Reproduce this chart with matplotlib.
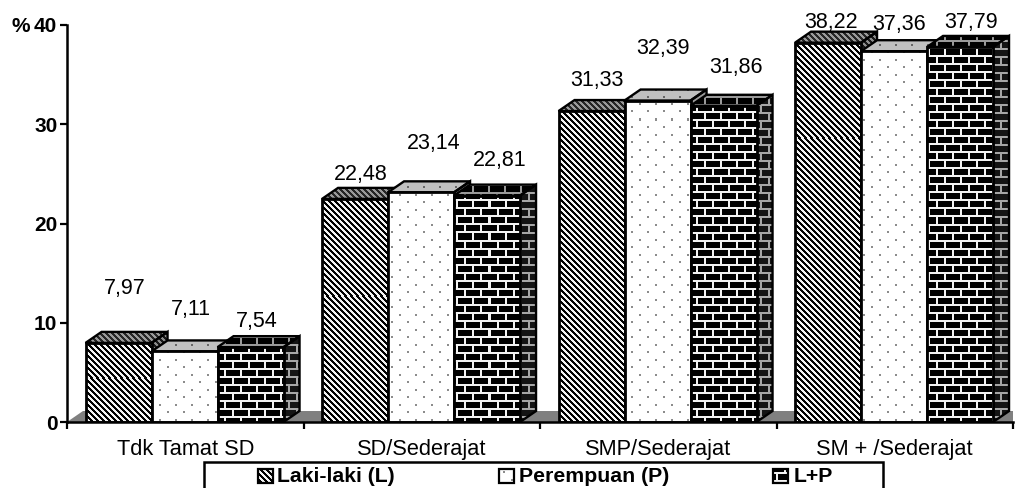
import numpy as np
import matplotlib
matplotlib.use("Agg")
import matplotlib.pyplot as plt
from matplotlib.patches import Polygon, Rectangle

plt.rcParams['font.family'] = ['Liberation Sans', 'DejaVu Sans']

categories = ["Tdk Tamat SD", "SD/Sederajat", "SMP/Sederajat", "SM + /Sederajat"]
series_names = ["Laki-laki (L)", "Perempuan (P)", "L+P"]
laki = [7.97, 22.48, 31.33, 38.22]
perempuan = [7.11, 23.14, 32.39, 37.36]
gabungan = [7.54, 22.81, 31.86, 37.79]
value_labels = [["7,97", "22,48", "31,33", "38,22"],
                ["7,11", "23,14", "32,39", "37,36"],
                ["7,54", "22,81", "31,86", "37,79"]]
y_ticks = [0, 10, 20, 30, 40]

# label offsets from the top of each bar, in pixels
label_dx = [[6, 6, 5, 3], [6, 13, 5, 5], [6, 13, 12, 11]]
label_dy = [[54, 24, 31, 20], [42, 49, 52, 27], [26, 35, 38, 24]]

W, H = 1017, 488
PX = 72 / 100.0  # pixel -> point
fig = plt.figure(figsize=(W / 100, H / 100), dpi=100)
ax = fig.add_axes([67 / W, (H - 422) / H, 946 / W, 397 / H])
ax.set_xlim(0, 4)
ax.set_ylim(0, 40)
ax.autoscale(False)

bar_w = 66 / 236.5
dx = 16 / 236.5
dy = 11 / 9.925


# pixel patterns, one figure-sized array for each fill
yy, xx = np.mgrid[0:H, 0:W]

def diagonal(dark, light):
    return np.where(((xx - yy) % 6) < 3, dark, light)

def dots(base, dot):
    t = np.full((H, W), base, dtype=float)
    for ox, oy in [(0, 0), (1, 0), (0, 1), (1, 1)]:
        a = ((yy + oy) % 15 == 0) & ((xx + ox) % 16 == 0)
        b = ((yy + oy) % 15 == 7) & ((xx + ox) % 16 == 8)
        t[a | b] = dot
    return t

def bricks(black, mortar):
    t = np.full((H, W), black, dtype=float)
    t[(yy % 8) < 2] = mortar
    shift = (yy // 8) % 2 * 8
    t[((xx + shift) % 16) < 2] = mortar
    return t

fills = [
    (diagonal(0.0, 0.95), diagonal(0.15, 0.6), diagonal(0.1, 0.55)),
    (dots(1.0, 0.55), dots(0.75, 0.4), dots(0.6, 0.3)),
    (bricks(0.0, 0.95), bricks(0.0, 0.6), bricks(0.08, 0.65)),
]

# figure corners in data coordinates, so the patterns line up with pixels
inv = ax.transData.inverted()
(x0, y0), (x1, y1) = inv.transform([(0, 0), (W, H)])


def textured(poly, tex, target=ax):
    target.add_patch(poly)
    im = target.imshow(tex, extent=(x0, x1, y0, y1), cmap="gray", vmin=0, vmax=1,
                       interpolation="nearest", aspect="auto",
                       zorder=poly.get_zorder() - 0.1)
    im.set_clip_path(poly)


# floor
floor = Polygon([(0, 0), (4.2, 0), (4.2 + dx, dy), (dx, dy)], closed=True,
                facecolor="#808080", edgecolor="none", zorder=1)
ax.add_patch(floor)

z = 3
all_series = [laki, perempuan, gabungan]
for c in range(len(categories)):
    left = c + 0.5 - 1.5 * bar_w - 0.003
    for s, values in enumerate(all_series):
        v = values[c]
        xl = left + s * bar_w
        xr = xl + bar_w
        front_tex, top_tex, side_tex = fills[s]
        top = Polygon([(xl, v), (xr, v), (xr + dx, v + dy), (xl + dx, v + dy)], closed=True,
                      facecolor="none", edgecolor="black", linewidth=1.7, zorder=z)
        side = Polygon([(xr, 0), (xr + dx, dy), (xr + dx, v + dy), (xr, v)], closed=True,
                       facecolor="none", edgecolor="black", linewidth=1.7, zorder=z)
        textured(top, top_tex)
        textured(side, side_tex)
        bar = ax.bar(xl, v, width=bar_w, align="edge", facecolor="none", edgecolor="black",
                     linewidth=2.0, zorder=z + 0.5)[0]
        im = ax.imshow(front_tex, extent=(x0, x1, y0, y1), cmap="gray", vmin=0, vmax=1,
                       interpolation="nearest", aspect="auto", zorder=z + 0.4)
        im.set_clip_path(bar)
        ax.annotate(value_labels[s][c], xy=(xl + bar_w / 2, v),
                    xytext=(label_dx[s][c] * PX, label_dy[s][c] * PX),
                    textcoords="offset points", ha="center", va="center",
                    fontsize=15.5, color="black", zorder=20, annotation_clip=False)
        z += 1

ax.set_xlim(0, 4)
ax.set_ylim(0, 40)

# axes
for name in ["top", "right"]:
    ax.spines[name].set_visible(False)
for name in ["left", "bottom"]:
    ax.spines[name].set_linewidth(1.8)
    ax.spines[name].set_zorder(30)
ax.set_xticks(range(5))
ax.set_xticklabels([])
ax.set_xticks(np.arange(4) + 0.5, categories, minor=True)
ax.tick_params(axis="x", which="major", length=5, width=1.6, direction="out")
ax.tick_params(axis="x", which="minor", length=0, pad=12, labelsize=15.7)
ax.set_yticks(y_ticks)
ax.tick_params(axis="y", length=5, width=1.6, pad=2, labelsize=15)
for t in ax.get_yticklabels():
    t.set_fontweight("bold")

# overlay in pixel coordinates: % sign and legend box
ov = fig.add_axes([0, 0, 1, 1], facecolor="none")
ov.set_xlim(0, W)
ov.set_ylim(H, 0)
ov.axis("off")
ov.autoscale(False)
ov.text(12, 27, "%", fontsize=15, fontweight="bold", ha="left", va="center")

ov.add_patch(Rectangle((204, 462), 679, 40, facecolor="white", edgecolor="black",
                       linewidth=1.8, zorder=2))
swatch_x = [258, 499, 773]
text_x = [277, 519, 794]
for s, name in enumerate(series_names):
    box = Rectangle((swatch_x[s], 469), 15, 14, facecolor="none", edgecolor="black",
                    linewidth=1.6, zorder=4)
    ov.add_patch(box)
    im = ov.imshow(fills[s][0], extent=(0, W, H, 0), cmap="gray", vmin=0, vmax=1,
                   interpolation="nearest", aspect="auto", zorder=3)
    im.set_clip_path(box)
    ov.text(text_x[s], 476, name, fontsize=15.3, fontweight="bold", ha="left", va="center", zorder=5)
ov.set_xlim(0, W)
ov.set_ylim(H, 0)

fig.savefig("out.png", dpi=100)
